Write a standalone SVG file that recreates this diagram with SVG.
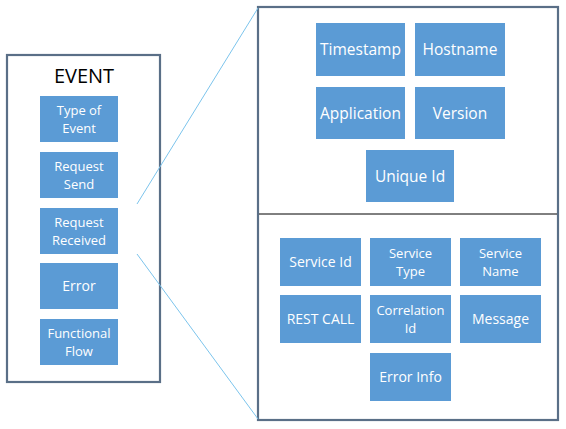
<svg xmlns="http://www.w3.org/2000/svg" width="566" height="429" viewBox="0 0 566 429">
<style>
.frame{fill:#fff;stroke:#5a6f87;stroke-width:2.2}
.n{fill:#5b9bd5}
.t{fill:#fff;font-family:"Open Sans","Liberation Sans",sans-serif;font-size:14px;text-anchor:middle}
.m{font-size:13px}
.b{font-size:15.5px}
.conn{stroke:#7cc4ec;stroke-width:1;fill:none}
</style>
<rect width="566" height="429" fill="#fff"/>
<g id="event-frame">
<rect class="frame" x="7" y="55" width="153" height="327"/>
<text x="84" y="83" font-family="'Open Sans','Liberation Sans',sans-serif" font-size="20" text-anchor="middle" fill="#000">EVENT</text>
</g>
<g id="detail-frame">
<rect class="frame" x="258" y="7" width="300" height="413"/>
<line x1="259" y1="214" x2="557" y2="214" stroke="#000" stroke-width="1"/>
</g>
<g id="connectors">
<line class="conn" x1="137" y1="204" x2="258" y2="8"/>
<line class="conn" x1="137" y1="254" x2="258" y2="419"/>
</g>
<g id="type-of-event"><rect class="n" x="40" y="96" width="78" height="46"/><text class="t m" x="79" y="114.5">Type of<tspan x="79" dy="18">Event</tspan></text></g>
<g id="request-send"><rect class="n" x="40" y="152" width="78" height="46"/><text class="t m" x="79" y="170.5">Request<tspan x="79" dy="18">Send</tspan></text></g>
<g id="request-received"><rect class="n" x="40" y="208" width="78" height="46"/><text class="t m" x="79" y="226.5">Request<tspan x="79" dy="18">Received</tspan></text></g>
<g id="error"><rect class="n" x="40" y="263" width="78" height="46"/><text class="t" x="79" y="291">Error</text></g>
<g id="functional-flow"><rect class="n" x="40" y="319" width="78" height="46"/><text class="t m" x="79" y="337.5">Functional<tspan x="79" dy="18">Flow</tspan></text></g>
<g id="timestamp"><rect class="n" x="316" y="23" width="89" height="53"/><text class="t b" x="360.5" y="55">Timestamp</text></g>
<g id="hostname"><rect class="n" x="415" y="23" width="90" height="53"/><text class="t b" x="460" y="55">Hostname</text></g>
<g id="application"><rect class="n" x="316" y="87" width="89" height="52"/><text class="t b" x="360.5" y="119">Application</text></g>
<g id="version"><rect class="n" x="415" y="87" width="90" height="52"/><text class="t b" x="460" y="119">Version</text></g>
<g id="unique-id"><rect class="n" x="366" y="150" width="88" height="52"/><text class="t b" x="410" y="182">Unique Id</text></g>
<g id="service-id"><rect class="n" x="280" y="238" width="81" height="48"/><text class="t" x="320.5" y="267">Service Id</text></g>
<g id="service-type"><rect class="n" x="370" y="238" width="81" height="48"/><text class="t m" x="410.5" y="257.5">Service<tspan x="410.5" dy="18">Type</tspan></text></g>
<g id="service-name"><rect class="n" x="460" y="238" width="81" height="48"/><text class="t m" x="500.5" y="257.5">Service<tspan x="500.5" dy="18">Name</tspan></text></g>
<g id="rest-call"><rect class="n" x="280" y="295" width="81" height="48"/><text class="t" x="320.5" y="324">REST CALL</text></g>
<g id="correlation-id"><rect class="n" x="370" y="295" width="81" height="48"/><text class="t m" x="410.5" y="314.5">Correlation<tspan x="410.5" dy="18">Id</tspan></text></g>
<g id="message"><rect class="n" x="460" y="295" width="81" height="48"/><text class="t" x="500.5" y="324">Message</text></g>
<g id="error-info"><rect class="n" x="370" y="353" width="81" height="48"/><text class="t" x="410.5" y="382">Error Info</text></g>
</svg>
